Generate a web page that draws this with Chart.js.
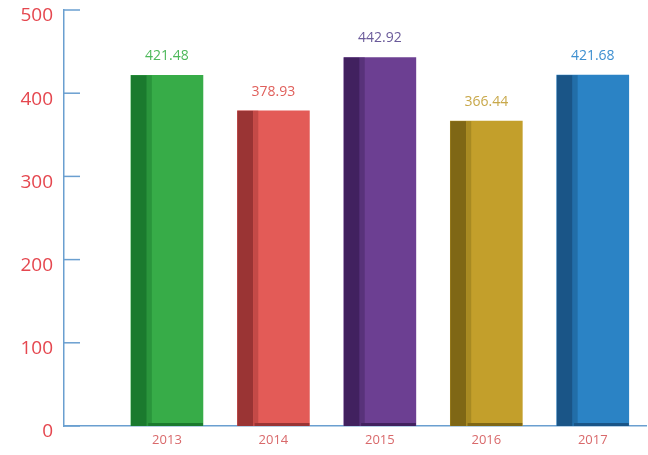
<!DOCTYPE html>
<html>
<head>
<meta charset="utf-8">
<script src="https://cdn.jsdelivr.net/npm/chart.js@4/dist/chart.umd.min.js"></script>
<style>
  html, body { margin: 0; padding: 0; background: #fff; }
  #wrap { width: 648px; height: 455px; }
</style>
</head>
<body>
<div id="wrap"><canvas id="barChartAni"></canvas></div>
<script>
var years = ['2013', '2014', '2015', '2016', '2017'];
var values = [421.48, 378.93, 442.92, 366.44, 421.68];
var yTicks = [0, 100, 200, 300, 400, 500];

var mainColors = ['#37ac48', '#e35b57', '#6c3f92', '#c39f2b', '#2b83c5'];
var darkColors = ['#1a7a2e', '#9a3434', '#41215f', '#7f6715', '#1a5587'];
var midColors = ['#2a953c', '#c44a47', '#58327a', '#a88a22', '#226ea8'];
var labelColors = ['#4db85a', '#e0605c', '#6a5a9a', '#c8a84a', '#3d8fd0'];

var axisBlue = '#6a9fd0';

// 3d look: dark left strip, mid strip, dark bottom strip + value above bar
var bar3d = {
    id: 'bar3d',
    afterDatasetsDraw: function (chart) {
        var c = chart.ctx;
        var meta = chart.getDatasetMeta(0);
        meta.data.forEach(function (el, i) {
            var w = el.width;
            var left = el.x - w / 2;
            var h = el.base - el.y;
            c.save();
            c.fillStyle = darkColors[i];
            c.fillRect(left, el.y, w * 0.22, h);
            c.fillStyle = midColors[i];
            c.fillRect(left + w * 0.22, el.y, w * 0.07, h);
            c.fillStyle = darkColors[i];
            c.fillRect(left + w * 0.24, el.base - 3, w * 0.76, 3);
            c.fillStyle = labelColors[i];
            c.font = '14px "Open Sans"';
            c.textAlign = 'center';
            c.textBaseline = 'middle';
            c.fillText(values[i].toFixed(2), el.x, el.y - 19);
            c.restore();
        });
    }
};

// short tick marks pointing into the plot from the y axis
var yTickMarks = {
    id: 'yTickMarks',
    afterDraw: function (chart) {
        var y = chart.scales.y;
        var c = chart.ctx;
        c.save();
        c.strokeStyle = axisBlue;
        c.lineWidth = 1.5;
        yTicks.forEach(function (t) {
            var py = y.getPixelForValue(t);
            c.beginPath();
            c.moveTo(chart.chartArea.left, py);
            c.lineTo(chart.chartArea.left + 16, py);
            c.stroke();
        });
        c.restore();
    }
};

var ctx = document.getElementById('barChartAni').getContext('2d');
var barChartAni = new Chart(ctx, {
    type: 'bar',
    data: {
        datasets: [{
            data: values.map(function (v, i) { return { x: i, y: v }; }),
            backgroundColor: mainColors,
            borderWidth: 0,
            barThickness: 72
        }]
    },
    options: {
        responsive: true,
        maintainAspectRatio: false,
        animation: false,
        layout: {
            padding: { top: 10, right: 2, left: 0, bottom: 0 }
        },
        scales: {
            x: {
                type: 'linear',
                offset: false,
                min: -0.967,
                max: 4.5,
                afterBuildTicks: function (s) {
                    s.ticks = years.map(function (y, i) { return { value: i }; });
                },
                afterFit: function (s) {
                    s.height = 29;
                    s.paddingLeft = 0;
                    s.paddingRight = 0;
                },
                grid: { display: false, drawTicks: false },
                border: { color: axisBlue, width: 1.5 },
                ticks: {
                    color: '#d9696b',
                    padding: 6,
                    font: { family: 'Open Sans', size: 13 },
                    callback: function (v) { return years[v]; }
                }
            },
            y: {
                min: 0,
                max: 500,
                afterBuildTicks: function (s) {
                    s.ticks = yTicks.map(function (t) { return { value: t }; });
                },
                afterFit: function (s) {
                    s.width = 64;
                    s.paddingTop = 0;
                    s.paddingBottom = 0;
                },
                grid: { display: false, drawTicks: false },
                border: { color: axisBlue, width: 1.5 },
                ticks: {
                    color: '#e5474f',
                    padding: 11,
                    labelOffset: 6,
                    font: { family: 'Open Sans', size: 19 }
                }
            }
        },
        plugins: {
            legend: { display: false },
            tooltip: { enabled: false }
        }
    },
    plugins: [bar3d, yTickMarks]
});
</script>
</body>
</html>
